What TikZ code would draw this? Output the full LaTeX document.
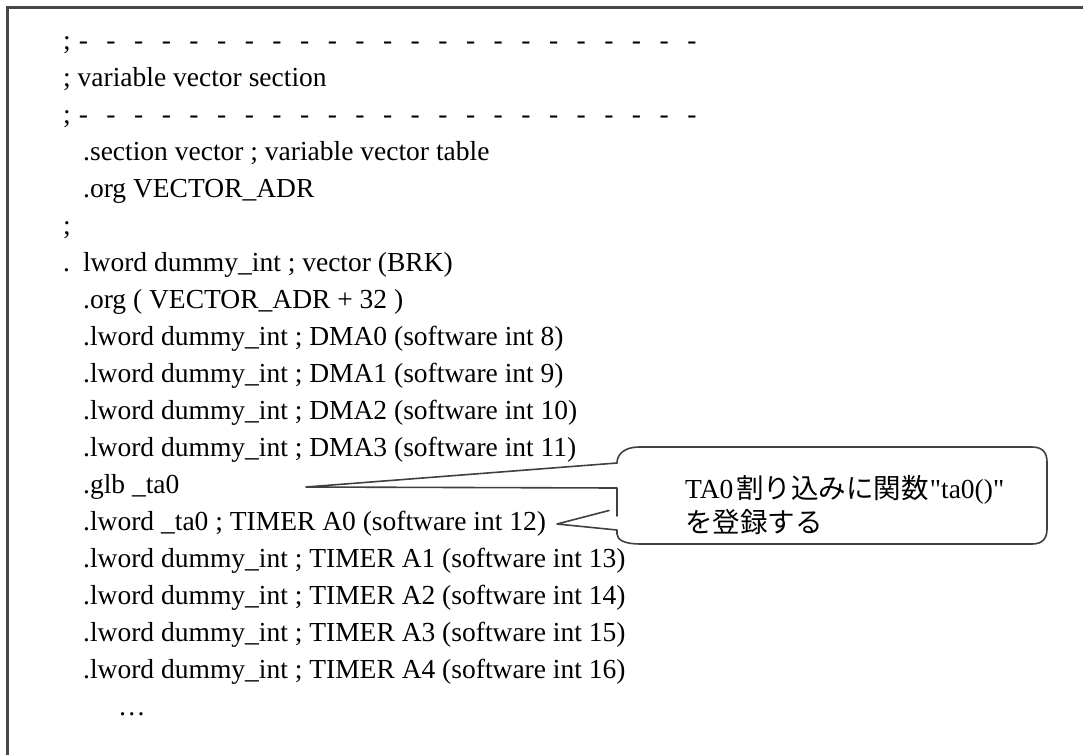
\documentclass[tikz,border=0pt]{standalone}
\usepackage{fontspec}
\setmainfont{Liberation Serif}
\newfontfamily\jpfont{Noto Sans CJK JP}
\begin{document}
\begin{tikzpicture}[x=1pt,y=-1pt,
  code/.style={anchor=base west, inner sep=0pt, font=\fontsize{27.5}{33}\selectfont},
  note/.style={anchor=base west, inner sep=0pt, font=\fontsize{27.5}{33}\selectfont},
  frame/.style={draw=black!72, line width=2.6pt},
  callout/.style={draw=black!75, line width=1.6pt, line join=round, line cap=round}]
\useasboundingbox (0,0) rectangle (1083,755);

% outer frame (top and left edges)
\draw[frame] (7.5,755) -- (7.5,7.5) -- (1083,7.5);

% listing
\newcommand{\dashline}{;\hspace{8pt}-\foreach \k in {1,...,22}{\hspace{18.5pt}-}}
\def\bl#1{49+37*#1}
\node[code] (l0)  at (63,{\bl{0}})  {\dashline};
\node[code] (l1)  at (63,{\bl{1}})  {; variable vector section};
\node[code] (l2)  at (63,{\bl{2}})  {\dashline};
\node[code] (l3)  at (83,{\bl{3}})  {.section vector ; variable vector table};
\node[code] (l4)  at (83,{\bl{4}})  {.org VECTOR\_ADR};
\node[code] (l5)  at (63,{\bl{5}})  {;};
\node[code] (l6)  at (63,{\bl{6}})  {.\hspace{13pt}lword dummy\_int ; vector (BRK)};
\node[code] (l7)  at (83,{\bl{7}})  {.org ( VECTOR\_ADR + 32 )};
\node[code] (l8)  at (83,{\bl{8}})  {.lword dummy\_int ; DMA0 (software int 8)};
\node[code] (l9)  at (83,{\bl{9}})  {.lword dummy\_int ; DMA1 (software int 9)};
\node[code] (l10) at (83,{\bl{10}}) {.lword dummy\_int ; DMA2 (software int 10)};
\node[code] (l11) at (83,{\bl{11}}) {.lword dummy\_int ; DMA3 (software int 11)};
\node[code] (l12) at (83,{\bl{12}}) {.glb \_ta0};
\node[code] (l13) at (83,{\bl{13}}) {.lword \_ta0 ; TIMER A0 (software int 12)};
\node[code] (l14) at (83,{\bl{14}}) {.lword dummy\_int ; TIMER A1 (software int 13)};
\node[code] (l15) at (83,{\bl{15}}) {.lword dummy\_int ; TIMER A2 (software int 14)};
\node[code] (l16) at (83,{\bl{16}}) {.lword dummy\_int ; TIMER A3 (software int 15)};
\node[code] (l17) at (83,{\bl{17}}) {.lword dummy\_int ; TIMER A4 (software int 16)};
\node[code] (l18) at (118,{\bl{18}}) {\dots};

% callout with two pointers: one to the .glb line, one to the TIMER A0 line
\def\L{617}\def\R{1047}\def\T{447}\def\B{544}
\coordinate (tipA) at (306,487);
\coordinate (tipB) at (557,524);
\draw[callout, fill=white] (\L,463) .. controls (\L,454) and (\L+8,\T) .. (\L+22,\T)
  -- (\R-15,\T) .. controls (\R-5,\T) and (\R,\T+5) .. (\R,\T+15)
  -- (\R,\B-15) .. controls (\R,\B-5) and (\R-5,\B) .. (\R-15,\B)
  -- (\L+23,\B) .. controls (\L+8,\B) and (\L,\B-4) .. (\L,534)
  -- (\L,530) -- (tipB) -- (\L-8,510.5);
\draw[callout] (\L,463) -- (tipA) -- (\L,488) -- (\L,516);

\node[note] (n1) at (685,498) {TA0\hspace{3pt}{\jpfont 割り込みに関数}\hspace{1pt}\textquotedbl ta0()\textquotedbl};
\node[note] (n2) at (685,532) {{\jpfont を登録する}};
\end{tikzpicture}
\end{document}
